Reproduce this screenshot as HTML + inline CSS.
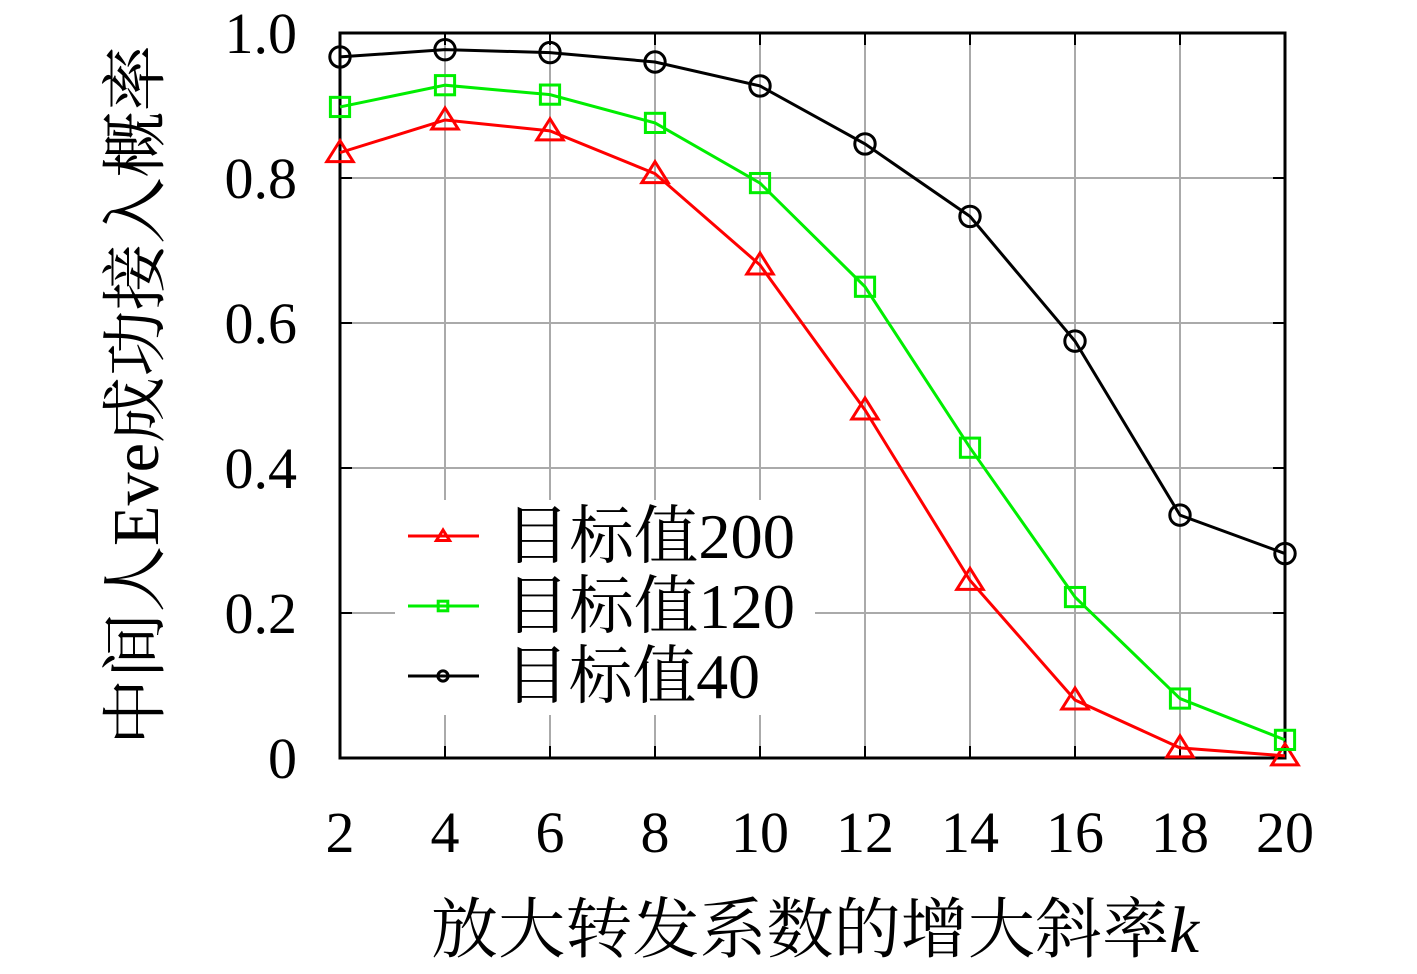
<!DOCTYPE html>
<html><head><meta charset="utf-8"><style>
body{margin:0;background:#fff;}
svg text{font-family:"Liberation Serif","Noto Serif CJK SC",serif;fill:#000;}
</style></head><body>
<svg id="chart" width="1417" height="969" viewBox="0 0 1417 969">
<g id="grid"></g>
<g id="axes"></g>
<g id="series"></g>
<g id="legend"></g>
<text x="158" y="395" font-size="66" text-anchor="middle" transform="rotate(-90 158 395)" textLength="700" lengthAdjust="spacingAndGlyphs">中间人Eve成功接入概率</text>
<text x="815" y="952" font-size="66" text-anchor="middle" textLength="768" lengthAdjust="spacingAndGlyphs">放大转发系数的增大斜率<tspan font-style="italic">k</tspan></text>
</svg>
<script>
const categories=[2,4,6,8,10,12,14,16,18,20];
const series200=[0.835,0.88,0.865,0.806,0.68,0.48,0.245,0.08,0.014,0.003];
const series120=[0.898,0.928,0.915,0.876,0.793,0.65,0.428,0.222,0.082,0.025];
const series40=[0.967,0.977,0.973,0.96,0.927,0.847,0.747,0.575,0.335,0.282];
const yTicks=[0,0.2,0.4,0.6,0.8,1.0];
const yTickLabels=["0","0.2","0.4","0.6","0.8","1.0"];
const legendLabels=["目标值200","目标值120","目标值40"];

const NS="http://www.w3.org/2000/svg";
const X0=340,X1=1285,Y0=758,Y1=33;
const xs=k=>X0+(k-2)/(18)*(X1-X0);
const ys=v=>Y0-v*(Y0-Y1);
function mk(tag,attrs,parent){const e=document.createElementNS(NS,tag);for(const k in attrs)e.setAttribute(k,attrs[k]);parent.appendChild(e);return e;}
const grid=document.getElementById('grid'),axes=document.getElementById('axes'),ser=document.getElementById('series'),leg=document.getElementById('legend');
categories.forEach(c=>{
  const g=mk('line',{x1:xs(c),x2:xs(c),y1:Y1,y2:Y0,stroke:'#aaa','stroke-width':2},grid);
  
  
  const t=mk('text',{x:xs(c),y:852,'font-size':58,'text-anchor':'middle'},axes);
  t.textContent=c;
  
  
  mk('line',{x1:xs(c),x2:xs(c),y1:Y0,y2:Y0-12,stroke:'#000','stroke-width':2},axes);
  mk('line',{x1:xs(c),x2:xs(c),y1:Y1,y2:Y1+12,stroke:'#000','stroke-width':2},axes);
});
yTicks.forEach((v,i)=>{
  const g=mk('line',{x1:X0,x2:X1,y1:ys(v),y2:ys(v),stroke:'#aaa','stroke-width':2},grid);
  
  
  const t=mk('text',{x:297,y:ys(v)+20,'font-size':58,'text-anchor':'end'},axes);
  t.textContent=yTickLabels[i];
  
  
  mk('line',{x1:X0,x2:X0+12,y1:ys(v),y2:ys(v),stroke:'#000','stroke-width':2},axes);
  mk('line',{x1:X1,x2:X1-12,y1:ys(v),y2:ys(v),stroke:'#000','stroke-width':2},axes);
});
const frame=mk('rect',{x:X0,y:Y1,width:X1-X0,height:Y0-Y1,fill:'none',stroke:'#000','stroke-width':3},axes);



function marker(type,x,y,color,s,parent){
  if(type==='tri') return mk('polygon',{points:`${x},${y-s} ${x-s*1.1},${y+s*0.75} ${x+s*1.1},${y+s*0.75}`,fill:'none',stroke:color,'stroke-width':3},parent);
  if(type==='sq') return mk('rect',{x:x-s*0.8,y:y-s*0.8,width:s*1.6,height:s*1.6,fill:'none',stroke:color,'stroke-width':3},parent);
  return mk('circle',{cx:x,cy:y,r:s*0.85,fill:'none',stroke:color,'stroke-width':3},parent);
}
const defs=[[series200,'#ff0000','tri','series-200'],[series120,'#00ee00','sq','series-120'],[series40,'#000000','circ','series-40']];
defs.forEach(([vals,color,type,name])=>{
  const g=mk('g',{},ser);
  
  
  const pl=mk('polyline',{points:vals.map((v,i)=>xs(categories[i])+','+ys(v)).join(' '),fill:'none',stroke:color,'stroke-width':3},g);
  
  
  vals.forEach((v,i)=>{
    const m=marker(type,xs(categories[i]),ys(v),color,12,g);
    
    
  });
});
const lb=mk('rect',{x:395,y:500,width:420,height:215,fill:'#fff'},leg);


const legendWidths=[290,290,255];
defs.forEach(([vals,color,type,name],i)=>{
  const y=536+i*70;
  const g=mk('g',{},leg);
  
  
  mk('line',{x1:408,x2:479,y1:y,y2:y,stroke:color,'stroke-width':3},g);
  marker(type,443,y,color,6,g);
  const t=mk('text',{x:505,y:y+22,'font-size':64,textLength:legendWidths[i],lengthAdjust:'spacingAndGlyphs'},g);
  t.textContent=legendLabels[i];
});
</script>
</body></html>
